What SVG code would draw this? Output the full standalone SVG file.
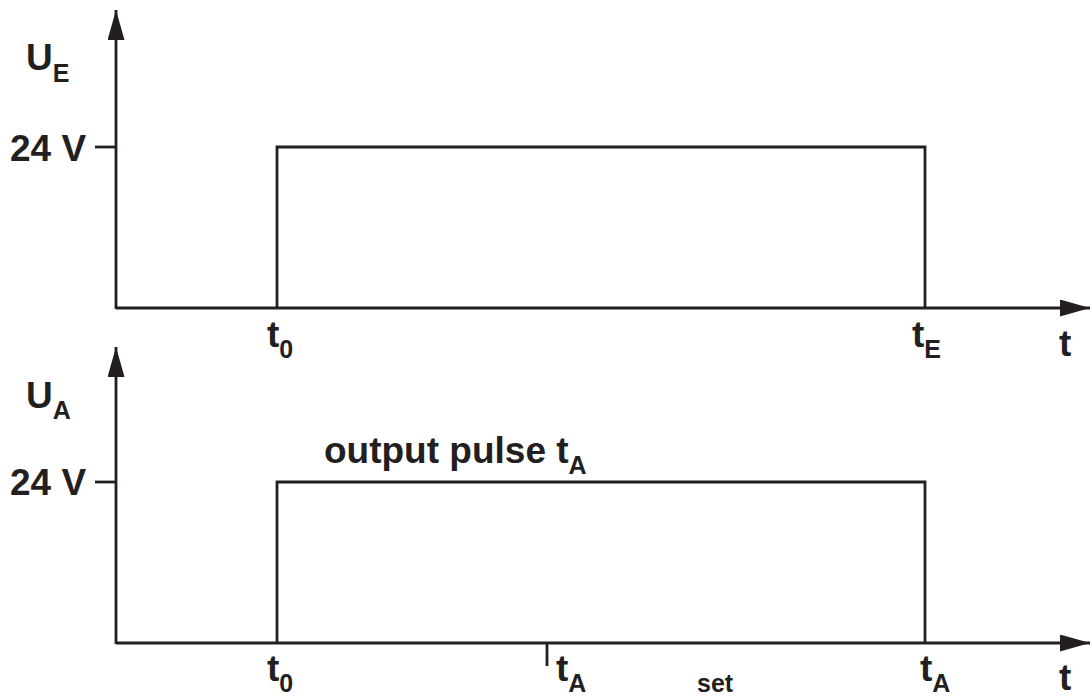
<svg xmlns="http://www.w3.org/2000/svg" width="1090" height="697" viewBox="0 0 1090 697">
<defs>
<marker id="ah" markerUnits="userSpaceOnUse" markerWidth="32" markerHeight="20" refX="30" refY="8.5" orient="auto"><path d="M0,0 L30,8.5 L0,17 Z" fill="#231f20"/></marker>
<style>
.ln{stroke:#231f20;stroke-width:2.8;fill:none}
.tx{font-family:"Liberation Sans",Arial,sans-serif;font-weight:bold;fill:#231f20;font-size:37px}
.sb{font-size:25px}
</style>
</defs>
<rect width="1090" height="697" fill="#fff"/>
<g id="connectors">
<line class="ln" x1="116" y1="309" x2="116" y2="10" marker-end="url(#ah)"/>
<line class="ln" x1="116" y1="308" x2="1090" y2="308" marker-end="url(#ah)"/>
<line class="ln" x1="116" y1="644" x2="116" y2="347" marker-end="url(#ah)"/>
<line class="ln" x1="116" y1="643" x2="1090" y2="643" marker-end="url(#ah)"/>
</g>
<g id="top-plot">
<line class="ln" x1="95" y1="147" x2="116" y2="147"/>
<polyline class="ln" points="277,308 277,147 925,147 925,308"/>
<text class="tx" x="26" y="70">U<tspan class="sb" dy="12">E</tspan></text>
<text class="tx" x="10" y="161">24 V</text>
<text class="tx" x="267" y="347">t<tspan class="sb" dy="11">0</tspan></text>
<text class="tx" x="912" y="347">t<tspan class="sb" dy="11">E</tspan></text>
<text class="tx" x="1059" y="356">t</text>
</g>
<g id="bottom-plot">
<line class="ln" x1="95" y1="482" x2="116" y2="482"/>
<polyline class="ln" points="277,643 277,482 925,482 925,643"/>
<line class="ln" x1="547" y1="643" x2="547" y2="666"/>
<text class="tx" x="26" y="408">U<tspan class="sb" dy="11">A</tspan></text>
<text class="tx" x="10" y="495">24 V</text>
<text class="tx" x="324" y="463">output pulse t<tspan class="sb" dy="11">A</tspan></text>
<text class="tx" x="267" y="681">t<tspan class="sb" dy="11">0</tspan></text>
<text class="tx" x="556" y="681">t<tspan class="sb" dy="11">A</tspan></text>
<text class="tx sb" x="697" y="692">set</text>
<text class="tx" x="920" y="681">t<tspan class="sb" dy="11">A</tspan></text>
<text class="tx" x="1059" y="690">t</text>
</g>
</svg>
